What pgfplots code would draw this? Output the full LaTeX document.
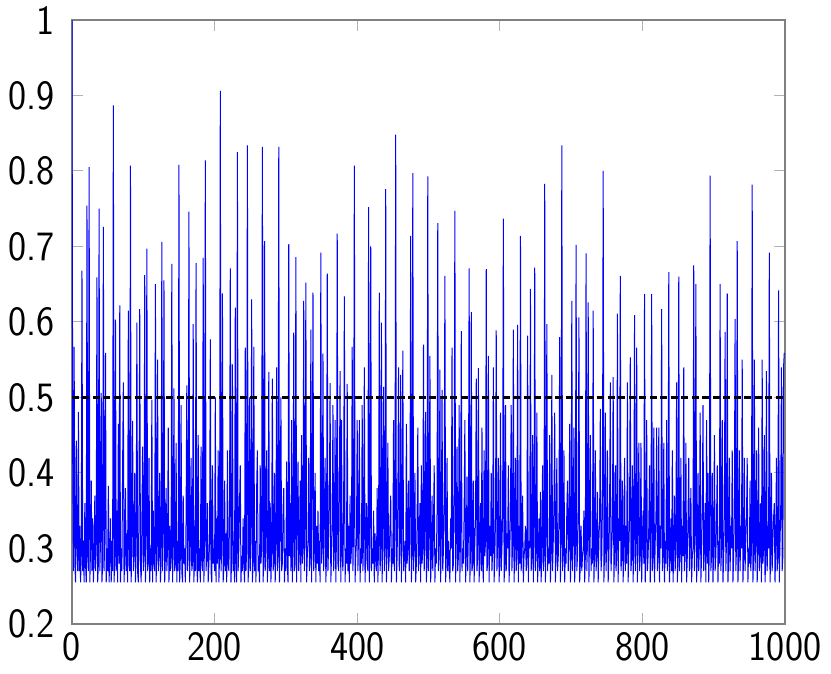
\documentclass[border=0pt]{standalone}
\usepackage{fontspec}
\usepackage{pgfplots}
\pgfplotsset{compat=1.18}
\newfontfamily\tickfont{lmsans17-regular.otf}[FakeStretch=0.92]

\begin{document}
\begin{tikzpicture}
\begin{axis}[
  scale only axis,
  width=285.2pt, height=241.6pt,
  xmin=0, xmax=1000,
  ymin=0.2, ymax=1,
  xtick={0,200,400,600,800,1000},
  ytick={0.2,0.3,0.4,0.5,0.6,0.7,0.8,0.9,1},
  yticklabels={0.2,0.3,0.4,0.5,0.6,0.7,0.8,0.9,1},
  /pgf/number format/1000 sep={},
  /pgf/number format/assume math mode=true,
  tick label style={font=\fontsize{16.7}{19}\selectfont\tickfont},
  yticklabel style={xshift=-3.4pt},
  tick style={gray!60, line width=0.4pt},
  axis line style={gray, line width=0.7pt},
]
\addplot[blue, line width=0.4pt]
  table[x expr=\coordindex, y index=0, header=false, row sep=\\] {
1.000\\0.42\\0.27\\0.567\\0.28\\0.255\\0.443\\0.30\\0.27\\0.481\\
0.27\\0.33\\0.255\\0.29\\0.668\\0.27\\0.31\\0.255\\0.36\\0.28\\
0.255\\0.754\\0.29\\0.27\\0.805\\0.255\\0.30\\0.39\\0.27\\0.34\\
0.255\\0.29\\0.37\\0.27\\0.30\\0.659\\0.255\\0.28\\0.750\\0.27\\
0.31\\0.506\\0.255\\0.28\\0.726\\0.27\\0.33\\0.559\\0.255\\0.30\\
0.27\\0.383\\0.255\\0.29\\0.34\\0.255\\0.31\\0.27\\0.887\\0.255\\
0.29\\0.603\\0.27\\0.35\\0.255\\0.465\\0.28\\0.622\\0.255\\0.30\\
0.27\\0.41\\0.520\\0.255\\0.29\\0.38\\0.27\\0.32\\0.255\\0.615\\
0.28\\0.27\\0.807\\0.255\\0.33\\0.469\\0.27\\0.29\\0.40\\0.255\\
0.30\\0.599\\0.27\\0.255\\0.36\\0.617\\0.28\\0.255\\0.33\\0.435\\
0.27\\0.29\\0.662\\0.255\\0.31\\0.697\\0.27\\0.28\\0.42\\0.255\\
0.30\\0.27\\0.497\\0.255\\0.35\\0.28\\0.27\\0.650\\0.255\\0.31\\
0.550\\0.27\\0.29\\0.40\\0.255\\0.28\\0.706\\0.27\\0.32\\0.655\\
0.255\\0.29\\0.38\\0.27\\0.30\\0.46\\0.255\\0.33\\0.27\\0.29\\
0.677\\0.255\\0.30\\0.512\\0.27\\0.28\\0.44\\0.255\\0.31\\0.27\\
0.808\\0.255\\0.29\\0.49\\0.27\\0.255\\0.37\\0.28\\0.30\\0.255\\
0.34\\0.516\\0.27\\0.29\\0.746\\0.255\\0.31\\0.42\\0.27\\0.28\\
0.597\\0.255\\0.33\\0.27\\0.678\\0.28\\0.255\\0.45\\0.27\\0.30\\
0.255\\0.435\\0.28\\0.27\\0.685\\0.255\\0.32\\0.814\\0.27\\0.29\\
0.36\\0.255\\0.28\\0.31\\0.577\\0.27\\0.255\\0.41\\0.28\\0.30\\
0.27\\0.500\\0.255\\0.34\\0.28\\0.43\\0.255\\0.29\\0.906\\0.27\\
0.30\\0.638\\0.255\\0.28\\0.39\\0.27\\0.32\\0.255\\0.43\\0.28\\
0.27\\0.35\\0.671\\0.255\\0.29\\0.544\\0.27\\0.31\\0.255\\0.619\\
0.28\\0.255\\0.825\\0.27\\0.30\\0.36\\0.41\\0.255\\0.29\\0.27\\
0.34\\0.28\\0.255\\0.566\\0.27\\0.30\\0.834\\0.255\\0.29\\0.50\\
0.27\\0.32\\0.630\\0.255\\0.28\\0.567\\0.27\\0.31\\0.255\\0.38\\
0.43\\0.27\\0.29\\0.255\\0.41\\0.28\\0.30\\0.832\\0.255\\0.29\\
0.707\\0.27\\0.33\\0.43\\0.255\\0.29\\0.534\\0.27\\0.36\\0.255\\
0.30\\0.525\\0.27\\0.28\\0.40\\0.255\\0.31\\0.54\\0.27\\0.29\\
0.832\\0.255\\0.33\\0.50\\0.27\\0.28\\0.35\\0.38\\0.255\\0.30\\
0.27\\0.415\\0.28\\0.255\\0.703\\0.29\\0.36\\0.27\\0.47\\0.255\\
0.31\\0.586\\0.27\\0.28\\0.686\\0.255\\0.33\\0.415\\0.27\\0.30\\
0.39\\0.255\\0.45\\0.28\\0.30\\0.628\\0.27\\0.34\\0.652\\0.255\\
0.29\\0.31\\0.42\\0.27\\0.28\\0.59\\0.255\\0.37\\0.639\\0.27\\
0.30\\0.40\\0.255\\0.33\\0.28\\0.35\\0.27\\0.31\\0.255\\0.692\\
0.28\\0.30\\0.558\\0.27\\0.34\\0.42\\0.255\\0.29\\0.664\\0.27\\
0.31\\0.36\\0.519\\0.255\\0.29\\0.33\\0.49\\0.27\\0.30\\0.47\\
0.255\\0.32\\0.717\\0.28\\0.27\\0.38\\0.535\\0.255\\0.47\\0.29\\
0.27\\0.35\\0.634\\0.255\\0.30\\0.28\\0.518\\0.27\\0.33\\0.255\\
0.37\\0.28\\0.30\\0.567\\0.27\\0.34\\0.807\\0.255\\0.29\\0.31\\
0.47\\0.27\\0.33\\0.47\\0.255\\0.30\\0.28\\0.49\\0.27\\0.32\\
0.54\\0.255\\0.30\\0.36\\0.28\\0.27\\0.752\\0.255\\0.33\\0.700\\
0.27\\0.30\\0.28\\0.35\\0.255\\0.32\\0.29\\0.27\\0.38\\0.255\\
0.31\\0.639\\0.27\\0.29\\0.599\\0.255\\0.34\\0.514\\0.27\\0.30\\
0.776\\0.255\\0.31\\0.44\\0.27\\0.29\\0.33\\0.37\\0.255\\0.30\\
0.28\\0.47\\0.27\\0.33\\0.848\\0.255\\0.29\\0.36\\0.54\\0.27\\
0.30\\0.53\\0.255\\0.34\\0.562\\0.27\\0.29\\0.31\\0.255\\0.465\\
0.28\\0.30\\0.39\\0.27\\0.32\\0.714\\0.255\\0.29\\0.797\\0.27\\
0.31\\0.40\\0.255\\0.28\\0.33\\0.46\\0.27\\0.30\\0.36\\0.255\\
0.41\\0.28\\0.30\\0.570\\0.27\\0.34\\0.481\\0.255\\0.29\\0.793\\
0.27\\0.31\\0.555\\0.255\\0.29\\0.37\\0.27\\0.33\\0.41\\0.255\\
0.30\\0.28\\0.35\\0.731\\0.27\\0.29\\0.537\\0.255\\0.32\\0.51\\
0.27\\0.30\\0.36\\0.661\\0.255\\0.29\\0.42\\0.27\\0.31\\0.28\\
0.255\\0.34\\0.30\\0.566\\0.27\\0.28\\0.38\\0.747\\0.255\\0.31\\
0.435\\0.27\\0.29\\0.49\\0.255\\0.33\\0.588\\0.27\\0.30\\0.28\\
0.35\\0.47\\0.255\\0.29\\0.395\\0.27\\0.32\\0.671\\0.255\\0.30\\
0.613\\0.27\\0.28\\0.39\\0.255\\0.31\\0.34\\0.525\\0.27\\0.29\\
0.539\\0.255\\0.30\\0.36\\0.27\\0.46\\0.28\\0.255\\0.43\\0.29\\
0.31\\0.670\\0.27\\0.28\\0.555\\0.255\\0.33\\0.29\\0.40\\0.27\\
0.30\\0.54\\0.255\\0.29\\0.34\\0.589\\0.27\\0.31\\0.42\\0.255\\
0.29\\0.48\\0.27\\0.30\\0.35\\0.737\\0.255\\0.28\\0.49\\0.27\\
0.32\\0.30\\0.41\\0.255\\0.29\\0.36\\0.49\\0.27\\0.31\\0.59\\
0.255\\0.30\\0.42\\0.27\\0.29\\0.596\\0.255\\0.33\\0.28\\0.714\\
0.27\\0.31\\0.37\\0.255\\0.29\\0.30\\0.33\\0.27\\0.28\\0.582\\
0.255\\0.31\\0.30\\0.644\\0.27\\0.29\\0.45\\0.255\\0.33\\0.672\\
0.27\\0.30\\0.48\\0.255\\0.29\\0.34\\0.27\\0.375\\0.255\\0.31\\
0.41\\0.27\\0.29\\0.783\\0.255\\0.33\\0.597\\0.27\\0.30\\0.28\\
0.45\\0.255\\0.29\\0.53\\0.27\\0.31\\0.36\\0.48\\0.255\\0.30\\
0.42\\0.27\\0.29\\0.34\\0.58\\0.255\\0.31\\0.834\\0.27\\0.29\\
0.43\\0.255\\0.30\\0.28\\0.35\\0.39\\0.27\\0.31\\0.465\\0.255\\
0.29\\0.628\\0.27\\0.32\\0.46\\0.255\\0.30\\0.702\\0.27\\0.29\\
0.34\\0.606\\0.255\\0.28\\0.33\\0.27\\0.29\\0.30\\0.35\\0.255\\
0.29\\0.691\\0.27\\0.31\\0.626\\0.255\\0.33\\0.45\\0.27\\0.30\\
0.28\\0.615\\0.255\\0.30\\0.43\\0.27\\0.29\\0.375\\0.255\\0.31\\
0.34\\0.485\\0.27\\0.29\\0.36\\0.800\\0.255\\0.30\\0.48\\0.27\\
0.31\\0.43\\0.255\\0.29\\0.35\\0.52\\0.27\\0.30\\0.33\\0.527\\
0.255\\0.30\\0.41\\0.27\\0.29\\0.611\\0.255\\0.34\\0.31\\0.661\\
0.27\\0.29\\0.39\\0.255\\0.31\\0.42\\0.27\\0.33\\0.28\\0.52\\
0.255\\0.30\\0.34\\0.553\\0.27\\0.29\\0.41\\0.255\\0.32\\0.609\\
0.27\\0.30\\0.566\\0.255\\0.33\\0.44\\0.27\\0.29\\0.44\\0.255\\
0.31\\0.35\\0.28\\0.637\\0.255\\0.30\\0.47\\0.27\\0.29\\0.33\\
0.41\\0.255\\0.30\\0.637\\0.27\\0.29\\0.46\\0.255\\0.31\\0.34\\
0.46\\0.27\\0.29\\0.46\\0.255\\0.33\\0.30\\0.617\\0.27\\0.29\\
0.44\\0.255\\0.31\\0.28\\0.47\\0.27\\0.30\\0.666\\0.255\\0.29\\
0.34\\0.27\\0.43\\0.255\\0.30\\0.37\\0.27\\0.32\\0.52\\0.255\\
0.29\\0.660\\0.27\\0.30\\0.42\\0.255\\0.33\\0.29\\0.54\\0.27\\
0.30\\0.44\\0.255\\0.29\\0.34\\0.42\\0.27\\0.31\\0.38\\0.255\\
0.29\\0.30\\0.675\\0.27\\0.33\\0.650\\0.255\\0.29\\0.40\\0.27\\
0.31\\0.48\\0.255\\0.29\\0.35\\0.49\\0.27\\0.30\\0.36\\0.255\\
0.47\\0.28\\0.40\\0.255\\0.31\\0.794\\0.27\\0.29\\0.40\\0.255\\
0.30\\0.45\\0.27\\0.29\\0.34\\0.41\\0.255\\0.31\\0.28\\0.650\\
0.27\\0.30\\0.47\\0.255\\0.29\\0.35\\0.587\\0.27\\0.31\\0.638\\
0.255\\0.29\\0.42\\0.27\\0.33\\0.30\\0.43\\0.255\\0.29\\0.35\\
0.604\\0.27\\0.30\\0.707\\0.255\\0.29\\0.43\\0.27\\0.33\\0.30\\
0.55\\0.255\\0.29\\0.42\\0.27\\0.31\\0.34\\0.42\\0.255\\0.30\\
0.28\\0.39\\0.27\\0.30\\0.782\\0.255\\0.29\\0.55\\0.27\\0.31\\
0.43\\0.255\\0.30\\0.46\\0.27\\0.29\\0.36\\0.255\\0.55\\0.28\\
0.30\\0.45\\0.255\\0.29\\0.535\\0.27\\0.33\\0.30\\0.692\\0.255\\
0.29\\0.40\\0.27\\0.31\\0.34\\0.36\\0.255\\0.30\\0.42\\0.27\\
0.29\\0.642\\0.255\\0.31\\0.35\\0.54\\0.27\\0.29\\0.54\\0.559\\
};
\addplot[black, line width=1.2pt, dash pattern=on 2.8pt off 1.4pt]
  coordinates {(0,0.5) (1000,0.5)};
\end{axis}
\pgfresetboundingbox
\path[use as bounding box]
  ([shift={(-28.8pt,-20pt)}]current axis.south west) rectangle
  ([shift={(18.4pt,8pt)}]current axis.north east);
\end{tikzpicture}
\end{document}
